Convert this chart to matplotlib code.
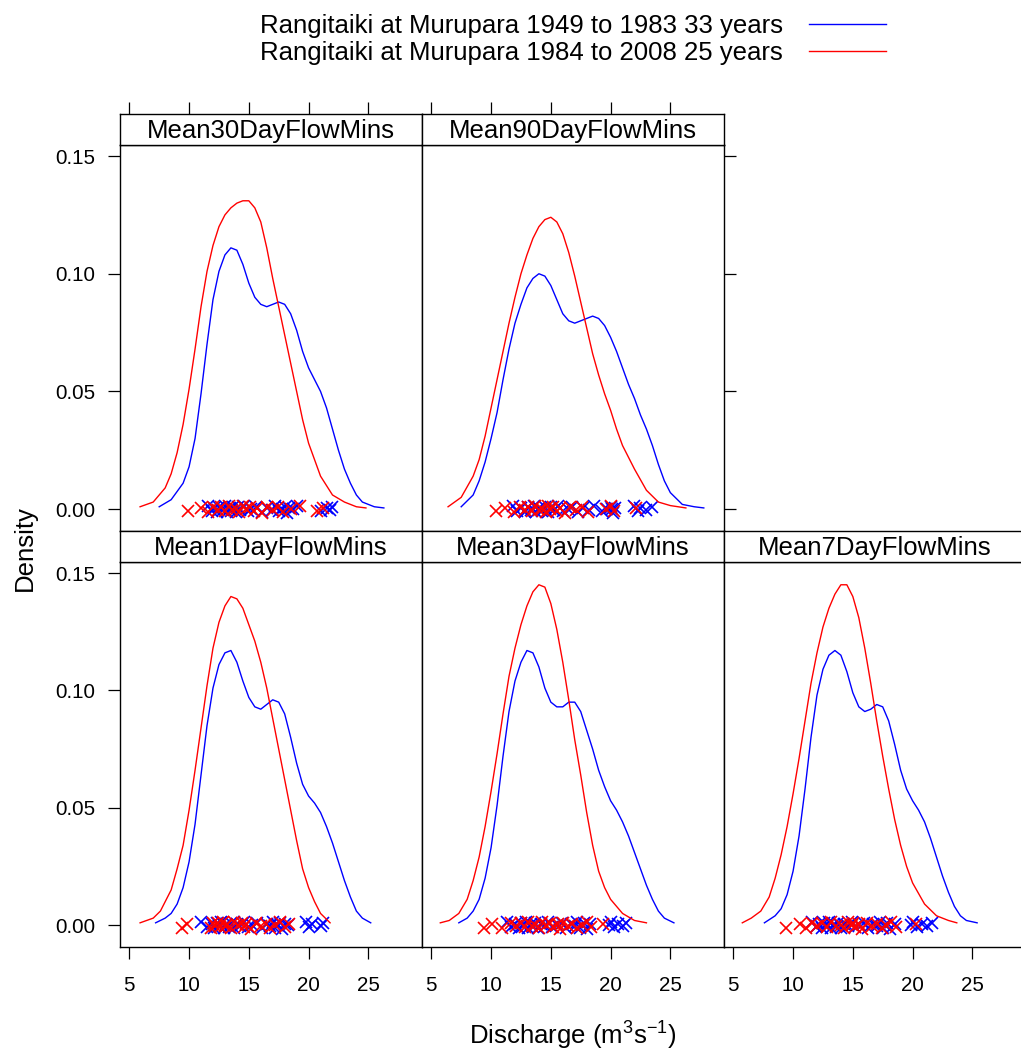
import matplotlib
matplotlib.use("Agg")
import matplotlib.pyplot as plt
from matplotlib.lines import Line2D

plt.rcParams['font.family'] = 'Liberation Sans'
plt.rcParams['mathtext.fontset'] = 'custom'
plt.rcParams['mathtext.rm'] = 'Liberation Sans'
plt.rcParams['mathtext.it'] = 'Liberation Sans:italic'

# ---- data ----
series_labels = ["Rangitaiki at Murupara 1949 to 1983 33 years",
                 "Rangitaiki at Murupara 1984 to 2008 25 years"]
panel_names = ["Mean30DayFlowMins", "Mean90DayFlowMins",
               "Mean1DayFlowMins", "Mean3DayFlowMins", "Mean7DayFlowMins"]

# density curves: (x, density)
m30_blue_x = [7.5, 8.5, 9.5, 10.0, 10.5, 11.0, 11.5, 12.0, 12.5, 13.0, 13.5, 14.0, 14.5, 15.0, 15.5, 16.0, 16.5,
              17.0, 17.5, 18.0, 18.5, 19.0, 19.5, 20.0, 20.5, 21.0, 21.5, 22.0, 22.5, 23.0, 23.5, 24.0, 24.5, 25.5, 26.3]
m30_blue_y = [0.001, 0.004, 0.011, 0.018, 0.030, 0.049, 0.070, 0.089, 0.101, 0.108, 0.111, 0.110, 0.104, 0.096, 0.090,
              0.087, 0.086, 0.087, 0.088, 0.087, 0.083, 0.076, 0.067, 0.060, 0.055, 0.050, 0.043, 0.034, 0.025, 0.017,
              0.011, 0.006, 0.003, 0.001, 0.0005]
m30_red_x = [5.9, 7.0, 8.0, 8.5, 9.0, 9.5, 10.0, 10.5, 11.0, 11.5, 12.0, 12.5, 13.0, 13.5, 14.0, 14.5, 15.0, 15.5,
             16.0, 16.5, 17.0, 17.5, 18.0, 18.5, 19.0, 19.5, 20.0, 20.5, 21.0, 22.0, 23.0, 24.0, 24.8]
m30_red_y = [0.001, 0.003, 0.009, 0.015, 0.024, 0.036, 0.051, 0.068, 0.086, 0.101, 0.112, 0.120, 0.125, 0.128, 0.130,
             0.131, 0.131, 0.128, 0.122, 0.111, 0.098, 0.086, 0.074, 0.062, 0.050, 0.038, 0.028, 0.021, 0.014, 0.006,
             0.003, 0.001, 0.0005]

m90_blue_x = [7.5, 8.5, 9.0, 9.5, 10.0, 10.5, 11.0, 11.5, 12.0, 12.5, 13.0, 13.5, 14.0, 14.5, 15.0, 15.5, 16.0, 16.5,
              17.0, 17.5, 18.0, 18.5, 19.0, 19.5, 20.0, 20.5, 21.0, 21.5, 22.0, 22.5, 23.0, 23.5, 24.0, 24.5, 25.0,
              26.0, 27.0, 27.8]
m90_blue_y = [0.001, 0.006, 0.012, 0.020, 0.030, 0.041, 0.055, 0.068, 0.079, 0.087, 0.094, 0.098, 0.100, 0.099, 0.095,
              0.089, 0.083, 0.080, 0.079, 0.080, 0.081, 0.082, 0.081, 0.078, 0.073, 0.067, 0.060, 0.053, 0.047, 0.040,
              0.034, 0.027, 0.019, 0.012, 0.007, 0.002, 0.001, 0.0005]
m90_red_x = [6.4, 7.5, 8.5, 9.0, 9.5, 10.0, 10.5, 11.0, 11.5, 12.0, 12.5, 13.0, 13.5, 14.0, 14.5, 15.0, 15.5, 16.0,
             16.5, 17.0, 17.5, 18.0, 18.5, 19.0, 19.5, 20.0, 20.5, 21.0, 22.0, 23.0, 24.0, 25.0, 26.3]
m90_red_y = [0.001, 0.005, 0.014, 0.021, 0.031, 0.043, 0.055, 0.067, 0.079, 0.090, 0.100, 0.108, 0.115, 0.120, 0.123,
             0.124, 0.122, 0.117, 0.109, 0.099, 0.088, 0.077, 0.066, 0.057, 0.049, 0.042, 0.034, 0.027, 0.017, 0.008,
             0.003, 0.0015, 0.0005]

m1_blue_x = [7.2, 8.0, 8.5, 9.0, 9.5, 10.0, 10.5, 11.0, 11.5, 12.0, 12.5, 13.0, 13.5, 14.0, 14.5, 15.0, 15.5, 16.0,
             16.5, 17.0, 17.5, 18.0, 18.5, 19.0, 19.5, 20.0, 20.5, 21.0, 21.5, 22.0, 22.5, 23.0, 23.5, 24.0, 24.5, 25.2]
m1_blue_y = [0.001, 0.003, 0.005, 0.009, 0.016, 0.027, 0.043, 0.064, 0.085, 0.101, 0.111, 0.116, 0.117, 0.112, 0.104,
             0.097, 0.093, 0.092, 0.094, 0.096, 0.095, 0.090, 0.080, 0.069, 0.060, 0.055, 0.052, 0.048, 0.042, 0.035,
             0.027, 0.019, 0.012, 0.006, 0.003, 0.001]
m1_red_x = [5.9, 7.0, 7.6, 8.5, 9.0, 9.5, 10.0, 10.5, 11.0, 11.5, 12.0, 12.5, 13.0, 13.5, 14.0, 14.5, 15.0, 15.5, 16.0,
            16.5, 17.0, 17.5, 18.0, 18.5, 19.0, 19.5, 20.0, 20.5, 21.0, 21.8]
m1_red_y = [0.001, 0.003, 0.006, 0.015, 0.024, 0.034, 0.049, 0.066, 0.084, 0.102, 0.118, 0.129, 0.136, 0.140, 0.139,
            0.135, 0.128, 0.121, 0.112, 0.101, 0.088, 0.075, 0.062, 0.049, 0.036, 0.024, 0.016, 0.010, 0.005, 0.001]

m3_blue_x = [7.3, 8.0, 8.5, 9.0, 9.5, 10.0, 10.5, 11.0, 11.5, 12.0, 12.5, 13.0, 13.5, 14.0, 14.5, 15.0, 15.5, 16.0,
             16.5, 17.0, 17.5, 18.0, 18.5, 19.0, 19.5, 20.0, 20.5, 21.0, 21.5, 22.0, 22.5, 23.0, 23.5, 24.0, 24.5, 25.3]
m3_blue_y = [0.001, 0.003, 0.006, 0.011, 0.020, 0.033, 0.051, 0.072, 0.091, 0.104, 0.112, 0.117, 0.116, 0.110, 0.101,
             0.095, 0.093, 0.093, 0.095, 0.095, 0.091, 0.083, 0.075, 0.066, 0.059, 0.053, 0.049, 0.044, 0.038, 0.031,
             0.024, 0.017, 0.011, 0.006, 0.003, 0.001]
m3_red_x = [5.75, 6.5, 7.3, 8.0, 8.5, 9.0, 9.5, 10.0, 10.5, 11.0, 11.5, 12.0, 12.5, 13.0, 13.5, 14.0, 14.5, 15.0, 15.5,
            16.0, 16.5, 17.0, 17.5, 18.0, 18.5, 19.0, 19.5, 20.0, 21.0, 22.0, 23.0]
m3_red_y = [0.001, 0.002, 0.005, 0.011, 0.019, 0.029, 0.042, 0.057, 0.073, 0.090, 0.106, 0.118, 0.128, 0.136, 0.142,
            0.145, 0.144, 0.137, 0.126, 0.112, 0.096, 0.079, 0.064, 0.048, 0.034, 0.023, 0.016, 0.011, 0.005, 0.002,
            0.001]

m7_blue_x = [7.6, 8.5, 9.0, 9.5, 10.0, 10.5, 11.0, 11.5, 12.0, 12.5, 13.0, 13.5, 14.0, 14.5, 15.0, 15.5, 16.0, 16.5,
             17.0, 17.5, 18.0, 18.5, 19.0, 19.5, 20.0, 20.5, 21.0, 21.5, 22.0, 22.5, 23.0, 23.5, 24.0, 24.5, 25.4]
m7_blue_y = [0.001, 0.004, 0.007, 0.013, 0.023, 0.038, 0.058, 0.080, 0.098, 0.109, 0.115, 0.117, 0.115, 0.108, 0.099,
             0.093, 0.091, 0.092, 0.094, 0.093, 0.087, 0.077, 0.066, 0.058, 0.053, 0.049, 0.044, 0.037, 0.029, 0.021,
             0.014, 0.008, 0.004, 0.002, 0.001]
m7_red_x = [5.75, 6.5, 7.3, 8.0, 8.5, 9.0, 9.5, 10.0, 10.5, 11.0, 11.5, 12.0, 12.5, 13.0, 13.5, 14.0, 14.5, 15.0, 15.5,
            16.0, 16.5, 17.0, 17.5, 18.0, 18.5, 19.0, 19.5, 20.0, 21.0, 22.0, 23.0, 23.7]
m7_red_y = [0.001, 0.003, 0.006, 0.012, 0.020, 0.030, 0.042, 0.056, 0.071, 0.087, 0.103, 0.116, 0.127, 0.135, 0.141,
            0.145, 0.145, 0.140, 0.131, 0.118, 0.103, 0.087, 0.072, 0.058, 0.045, 0.034, 0.025, 0.018, 0.009, 0.004,
            0.002, 0.001]

# yearly values shown as points (blue: 33 years, red: 25 years)
m30_blue_pts = [11.6, 11.9, 12.1, 12.3, 12.5, 12.8, 13.0, 13.2, 13.4, 13.5, 13.7, 13.9, 14.1, 14.3, 14.6, 14.9, 15.2,
                15.6, 16.1, 16.5, 16.9, 17.2, 17.5, 17.8, 18.0, 18.2, 18.4, 18.7, 19.0, 21.0, 21.5, 21.8, 22.0]
m30_red_pts = [9.9, 11.0, 11.6, 12.0, 12.4, 12.7, 13.0, 13.3, 13.6, 13.9, 14.2, 14.5, 14.8, 15.1, 15.4, 15.7, 16.1,
               16.5, 17.0, 17.4, 17.9, 18.5, 19.3, 20.7, 21.2]
m90_blue_pts = [11.8, 12.2, 12.5, 12.8, 13.1, 13.3, 13.6, 13.8, 14.0, 14.3, 14.5, 14.8, 15.0, 15.3, 15.6, 16.0, 16.4,
                16.8, 17.3, 17.7, 18.2, 18.6, 19.3, 19.7, 20.0, 20.2, 20.4, 20.1, 22.0, 22.3, 22.5, 23.0, 23.5]
m90_red_pts = [10.4, 11.2, 11.9, 12.4, 12.8, 13.1, 13.4, 13.7, 14.0, 14.3, 14.6, 14.8, 14.9, 15.2, 15.5, 15.8, 16.2,
               16.6, 17.1, 17.6, 18.1, 19.6, 20.0, 20.3, 22.1]
m1_blue_pts = [11.0, 11.5, 11.9, 12.1, 12.3, 12.5, 12.7, 12.9, 13.1, 13.3, 13.5, 13.8, 14.0, 14.3, 14.6, 14.9, 15.3,
               15.7, 16.1, 16.5, 16.8, 17.0, 17.2, 17.4, 17.6, 17.8, 18.0, 18.3, 19.8, 20.0, 20.3, 21.0, 21.2]
m1_red_pts = [9.4, 9.8, 11.8, 12.0, 12.2, 12.4, 12.6, 12.8, 13.0, 13.2, 13.5, 13.8, 14.1, 14.4, 14.6, 14.8, 15.2, 15.6,
              16.0, 16.4, 16.8, 17.2, 17.6, 18.0, 18.4]
m3_blue_pts = [11.3, 11.7, 12.0, 12.3, 12.5, 12.7, 12.9, 13.1, 13.3, 13.5, 13.7, 13.9, 14.2, 14.5, 14.8, 15.1, 15.5,
               15.9, 16.3, 16.7, 17.0, 17.2, 17.4, 17.6, 17.8, 18.0, 18.3, 19.9, 20.0, 20.3, 20.6, 21.0, 21.3]
m3_red_pts = [9.4, 10.1, 10.9, 11.7, 12.1, 12.5, 12.8, 13.1, 13.4, 13.7, 14.0, 14.3, 14.6, 14.9, 15.2, 15.6, 15.8,
              16.0, 16.4, 16.8, 17.2, 17.6, 18.0, 18.4, 19.4]
m7_blue_pts = [11.6, 11.9, 12.2, 12.4, 12.6, 12.8, 13.0, 13.2, 13.4, 13.6, 13.8, 14.0, 14.3, 14.6, 14.9, 15.2, 15.5,
               15.9, 16.3, 16.7, 17.0, 17.3, 17.5, 17.7, 17.9, 18.1, 18.5, 19.9, 20.0, 20.4, 20.8, 21.2, 21.6]
m7_red_pts = [9.4, 10.6, 11.1, 11.6, 12.0, 12.4, 12.8, 13.2, 13.6, 14.0, 14.3, 14.6, 14.9, 15.0, 15.2, 15.5, 15.8,
              16.2, 16.6, 17.0, 17.4, 17.8, 18.2, 18.6, 20.3]

# small vertical offsets of the points, as they appear in the reference
blue_jitter = [0.0012, -0.0008, 0.0004, -0.0013, 0.0009, -0.0002, 0.0015, -0.0011, 0.0003, -0.0006, 0.0011, -0.0014,
               0.0007, -0.0003, 0.0013, -0.0009, 0.0001, 0.0010, -0.0012, 0.0005, -0.0005, 0.0014, -0.0010, 0.0002,
               0.0008, -0.0015, 0.0006, -0.0001, 0.0012, -0.0007, 0.0004, -0.0004, 0.0009]
red_jitter = [-0.0010, 0.0006, -0.0014, 0.0011, -0.0003, 0.0008, -0.0009, 0.0013, -0.0005, 0.0002, -0.0012, 0.0015,
              -0.0001, 0.0009, -0.0007, 0.0004, -0.0015, 0.0010, -0.0004, 0.0007, -0.0011, 0.0001, 0.0012, -0.0006,
              0.0003]

x_ticks = [5, 10, 15, 20, 25]
y_ticks = [0.00, 0.05, 0.10, 0.15]
y_ticklabels = ["0.00", "0.05", "0.10", "0.15"]

panels = [
    # name, row, col, blue curve, red curve, blue pts, red pts
    (panel_names[0], 0, 0, (m30_blue_x, m30_blue_y), (m30_red_x, m30_red_y), m30_blue_pts, m30_red_pts),
    (panel_names[1], 0, 1, (m90_blue_x, m90_blue_y), (m90_red_x, m90_red_y), m90_blue_pts, m90_red_pts),
    (panel_names[2], 1, 0, (m1_blue_x, m1_blue_y), (m1_red_x, m1_red_y), m1_blue_pts, m1_red_pts),
    (panel_names[3], 1, 1, (m3_blue_x, m3_blue_y), (m3_red_x, m3_red_y), m3_blue_pts, m3_red_pts),
    (panel_names[4], 1, 2, (m7_blue_x, m7_blue_y), (m7_red_x, m7_red_y), m7_blue_pts, m7_red_pts),
]

# ---- layout in pixels ----
W, H = 1021, 1052
fig = plt.figure(figsize=(W / 100, H / 100), dpi=100)


def box(x0, y0, x1, y1):
    return [x0 / W, 1 - y1 / H, (x1 - x0) / W, (y1 - y0) / H]


col_left = [120, 422, 724]
col_w = 302
row_strip = [(114, 145), (531, 562)]
row_plot = [(145, 531), (562, 947)]
xlim = (4.22, 29.49)
ylim = (-0.0093, 0.1547)
last_col = {0: 1, 1: 2}

FS_TICK = 14.8
FS_TEXT = 18.5
LW = 1.0

for name, r, c, blue, red, bpts, rpts in panels:
    x0 = col_left[c]
    ax = fig.add_axes(box(x0, row_plot[r][0], x0 + col_w, row_plot[r][1]))
    ax.plot(blue[0], blue[1], color='blue', lw=LW)
    ax.plot(bpts, blue_jitter, 'x', color='blue', ms=9, mew=1.2)
    ax.plot(red[0], red[1], color='red', lw=LW)
    ax.plot(rpts, red_jitter, 'x', color='red', ms=9, mew=1.2)
    ax.set_xlim(*xlim)
    ax.set_ylim(*ylim)
    for sp in ax.spines.values():
        sp.set_linewidth(1.0)
    ax.tick_params(direction='out', length=8.6, width=0.9, labelsize=FS_TICK)
    ax.set_yticks(y_ticks)
    ax.set_yticklabels(y_ticklabels)
    ax.tick_params(axis='y', pad=9, left=(c == 0), labelleft=(c == 0),
                   right=(c == last_col[r]), labelright=False)
    ax.set_xticks(x_ticks)
    ax.tick_params(axis='x', pad=12, bottom=(r == 1), labelbottom=(r == 1), top=False)

    sx = fig.add_axes(box(x0, row_strip[r][0], x0 + col_w, row_strip[r][1]))
    sx.set_xlim(*xlim)
    sx.set_yticks([])
    for sp in sx.spines.values():
        sp.set_linewidth(1.0)
    if r == 0:
        sx.xaxis.tick_top()
        sx.set_xticks(x_ticks)
        sx.set_xticklabels([])
        sx.tick_params(axis='x', direction='out', length=8.6, width=0.9)
    else:
        sx.set_xticks([])
    sx.text(0.5, 0.45, name, ha='center', va='center', fontsize=FS_TEXT, transform=sx.transAxes)

handles = [Line2D([], [], color='blue', lw=LW), Line2D([], [], color='red', lw=LW)]
fig.legend(handles, series_labels, loc='upper center', bbox_to_anchor=(573 / W, 1 - 1 / H),
           frameon=False, markerfirst=False, handlelength=3.0, handletextpad=1.0,
           labelspacing=0.13, fontsize=FS_TEXT, borderpad=0.0)

fig.text(25 / W, 1 - 548 / H, "Density", rotation=90, ha='center', va='center', fontsize=FS_TEXT)
fig.text(573 / W, 1 - 1036 / H, r"Discharge (m$^3$s$^{-1}$)", ha='center', va='center', fontsize=FS_TEXT)

fig.savefig("out.png", dpi=100)
